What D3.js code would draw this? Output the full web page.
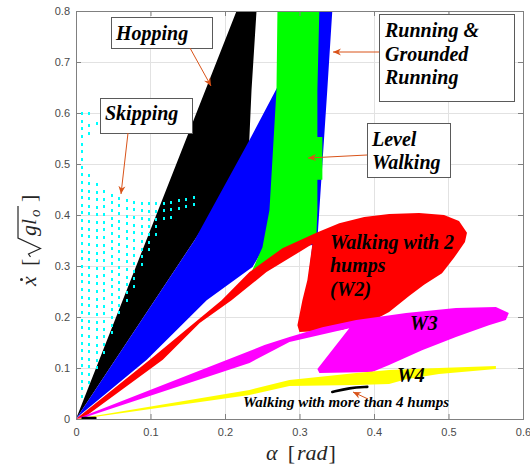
<!DOCTYPE html>
<html>
<head>
<meta charset="utf-8">
<script src="https://cdn.jsdelivr.net/npm/d3@7/dist/d3.min.js"></script>
<style>
    html, body { margin: 0; padding: 0; background: #ffffff; }
    svg { display: block; }
</style>
</head>
<body>
<div id="chart"></div>
<script>
// ---- data (alpha [rad], xdot [sqrt(g l0)]) ----
const xTicks = [0, 0.1, 0.2, 0.3, 0.4, 0.5, 0.6];
const yTicks = [0, 0.1, 0.2, 0.3, 0.4, 0.5, 0.6, 0.7, 0.8];

// hopping (black)
const hoppingRegion = [
    [0, 0], [0.2155, 0.8], [0.2423, 0.8], [0.2356, 0.645], [0.2316, 0.514], [0.1593, 0.351]
];

// running & grounded running (blue)
const runningRegion = [
    [0, 0], [0.1593, 0.351], [0.2329, 0.547], [0.2704, 0.651], [0.2731, 0.8], [0.344, 0.8],
    [0.3373, 0.645], [0.3293, 0.469], [0.324, 0.351], [0.3186, 0.308], [0.3092, 0.21],
    [0.3066, 0.21], [0.3146, 0.308], [0.3173, 0.341], [0.2503, 0.331], [0.2369, 0.298],
    [0.1754, 0.233], [0.095, 0.116], [0.0054, 0.008]
];

// level walking (green)
const levelWalkRegion = [
    [0.2704, 0.8], [0.2691, 0.645], [0.2597, 0.41], [0.2503, 0.337], [0.2356, 0.288],
    [0.253, 0.308], [0.2731, 0.3275], [0.2999, 0.345], [0.3226, 0.357], [0.324, 0.41],
    [0.324, 0.469], [0.3307, 0.469], [0.3307, 0.553], [0.324, 0.553], [0.324, 0.645],
    [0.3266, 0.8]
];

// walking with 2 humps (red)
const walk2Region = [
    [0, 0], [0.0991, 0.116], [0.1955, 0.233], [0.2329, 0.288], [0.2771, 0.335],
    [0.3226, 0.365], [0.3534, 0.384], [0.3869, 0.396], [0.4203, 0.402], [0.4605, 0.404],
    [0.494, 0.4], [0.5141, 0.388], [0.5248, 0.365], [0.5221, 0.347], [0.5074, 0.316],
    [0.4913, 0.286], [0.4672, 0.263], [0.4471, 0.241], [0.4203, 0.21], [0.4003, 0.194],
    [0.3561, 0.1745], [0.2999, 0.1706], [0.2972, 0.184], [0.3039, 0.233], [0.3106, 0.2725],
    [0.3173, 0.343], [0.2999, 0.3275], [0.2557, 0.288], [0.2088, 0.233], [0.166, 0.188],
    [0.1165, 0.116], [0.008, 0]
];

// walking with 3 humps (magenta)
const walk3Region = [
    [0, 0], [0.253, 0.145], [0.2865, 0.161], [0.3307, 0.18], [0.3762, 0.194], [0.4431, 0.208],
    [0.51, 0.2176], [0.5636, 0.2196], [0.581, 0.208], [0.577, 0.194], [0.5542, 0.184],
    [0.51, 0.161], [0.4645, 0.135], [0.4203, 0.106], [0.3976, 0.092], [0.3266, 0.09],
    [0.324, 0.098], [0.3668, 0.178], [0.2865, 0.151], [0.2329, 0.11], [0.0054, 0]
];

// walking with 4 humps (yellow)
const walk4Region = [
    [0, 0], [0.2329, 0.057], [0.2865, 0.0765], [0.3762, 0.09], [0.4203, 0.096], [0.4873, 0.1],
    [0.5636, 0.104], [0.5636, 0.098], [0.4873, 0.088], [0.4431, 0.078], [0.4203, 0.0686],
    [0.3762, 0.0667], [0.2865, 0.0647], [0.2329, 0.047], [0.0054, 0]
];

// walking with more than 4 humps (black strokes)
const multiHumpCurve = [[0.344, 0.053], [0.367, 0.061], [0.391, 0.063]];
const multiHumpOrigin = [[0.009, 0.002], [0.026, 0.002]];

// skipping (cyan dot grid): column alpha, top and bottom xdot
const skipColsX = [0.008, 0.018, 0.028, 0.038, 0.048, 0.058, 0.068, 0.078,
                   0.088, 0.098, 0.108, 0.118, 0.128, 0.138, 0.148, 0.158];
const skipColsTop = [0.6, 0.478, 0.461, 0.447, 0.44, 0.434, 0.429, 0.426,
                     0.424, 0.423, 0.423, 0.424, 0.426, 0.429, 0.432, 0.436];
const skipColsBottom = [0.045, 0.06, 0.095, 0.125, 0.16, 0.195, 0.23, 0.26,
                        0.295, 0.33, 0.36, 0.386, 0.394, 0.4, 0.406, 0.42];
const skipStep = 0.015;
const skipExtraDots = [[0.018, 0.6], [0.018, 0.577], [0.018, 0.561], [0.028, 0.581]];

// ---- layout ----
const W = 530, H = 466;
const plot = { left: 76, right: 523, top: 11, bottom: 419 };
const serif = "Liberation Serif, serif";
const sans = "Liberation Sans, sans-serif";

let svg = d3.select("#chart").append("svg")
    .attr("width", W)
    .attr("height", H);

let x = d3.scaleLinear().domain([0, 0.6]).range([plot.left, plot.right]);
let y = d3.scaleLinear().domain([0, 0.8]).range([plot.bottom, plot.top]);

// grid
let grid = svg.append("g").attr("shape-rendering", "crispEdges");
grid.selectAll(".gx")
    .data(xTicks.slice(1, -1))
    .enter().append("line")
    .attr("x1", d => x(d)).attr("x2", d => x(d))
    .attr("y1", plot.top).attr("y2", plot.bottom)
    .attr("stroke", "#e2e2e2");
grid.selectAll(".gy")
    .data(yTicks.slice(1, -1))
    .enter().append("line")
    .attr("x1", plot.left).attr("x2", plot.right)
    .attr("y1", d => y(d)).attr("y2", d => y(d))
    .attr("stroke", "#e2e2e2");

let area = d3.line()
    .x(d => x(d[0]))
    .y(d => y(d[1]))
    .curve(d3.curveLinearClosed);

let regions = svg.append("g");

// hopping first, skipping dots sit on top of it
regions.append("path").attr("d", area(hoppingRegion)).attr("fill", "#000000");

let skipDots = [];
skipColsX.forEach((cx, i) => {
    for (let v = skipColsTop[i]; v >= skipColsBottom[i] - 1e-9; v -= skipStep) {
        skipDots.push([cx, v]);
    }
});
skipDots = skipDots.concat(skipExtraDots);

regions.append("g")
    .attr("shape-rendering", "crispEdges")
    .selectAll(".skip")
    .data(skipDots)
    .enter().append("rect")
    .attr("class", "skip")
    .attr("x", d => Math.round(x(d[0])) - 1)
    .attr("y", d => Math.round(y(d[1])) - 1)
    .attr("width", 2)
    .attr("height", 3)
    .attr("fill", "#00ffff");

regions.append("path").attr("d", area(runningRegion)).attr("fill", "#0000ff");
regions.append("path").attr("d", area(levelWalkRegion)).attr("fill", "#00ff00");
regions.append("path").attr("d", area(walk2Region)).attr("fill", "#ff0000");
regions.append("path").attr("d", area(walk3Region)).attr("fill", "#ff00ff");
regions.append("path").attr("d", area(walk4Region)).attr("fill", "#ffff00");

let curve = d3.line().x(d => x(d[0])).y(d => y(d[1])).curve(d3.curveBasis);
[multiHumpCurve, multiHumpOrigin].forEach(c => {
    regions.append("path")
        .attr("d", curve(c))
        .attr("fill", "none")
        .attr("stroke", "#000000")
        .attr("stroke-width", 2.6)
        .attr("stroke-linecap", "round");
});

// ---- axes ----
const axisColor = "#808080";
let fmt = d => String(d);

let gx = svg.append("g")
    .attr("transform", `translate(0,${plot.bottom})`)
    .call(d3.axisBottom(x).tickValues(xTicks).tickSize(-5).tickPadding(9).tickFormat(fmt));
let gy = svg.append("g")
    .attr("transform", `translate(${plot.left},0)`)
    .call(d3.axisLeft(y).tickValues(yTicks).tickSize(-5).tickPadding(6).tickFormat(fmt));
let gt = svg.append("g")
    .attr("transform", `translate(0,${plot.top})`)
    .call(d3.axisTop(x).tickValues(xTicks).tickSize(-5).tickFormat(""));
let gr = svg.append("g")
    .attr("transform", `translate(${plot.right},0)`)
    .call(d3.axisRight(y).tickValues(yTicks).tickSize(-5).tickFormat(""));

[gx, gy, gt, gr].forEach(g => {
    g.attr("font-family", sans).attr("font-size", 11);
    g.select(".domain").remove();
    g.selectAll("line").attr("stroke", axisColor);
    g.selectAll("text").attr("fill", "#4a4a4a");
});

svg.append("rect")
    .attr("x", plot.left).attr("y", plot.top)
    .attr("width", plot.right - plot.left)
    .attr("height", plot.bottom - plot.top)
    .attr("shape-rendering", "crispEdges")
    .attr("fill", "none")
    .attr("stroke", axisColor);

// x label: alpha [rad]
let xl = svg.append("text")
    .attr("x", 301).attr("y", 460)
    .attr("text-anchor", "middle")
    .attr("font-family", serif)
    .attr("font-size", 22)
    .attr("fill", "#262626");
xl.append("tspan").attr("font-style", "italic").text("α");
xl.append("tspan").attr("dx", 10).text("[");
xl.append("tspan").attr("dx", 2).attr("font-style", "italic").text("rad");
xl.append("tspan").attr("dx", 1).text("]");

// y label: xdot [sqrt(g l_o)]
let yl = svg.append("g")
    .attr("transform", "translate(35.5,286) rotate(-90)")
    .attr("font-family", serif)
    .attr("fill", "#262626");
yl.append("text").attr("x", 0).attr("y", 0)
    .attr("font-size", 22).attr("font-style", "italic").text("x");
yl.append("circle").attr("cx", 6.5).attr("cy", -14).attr("r", 1.5);
yl.append("text").attr("x", 20).attr("y", 0).attr("font-size", 22).text("[");
yl.append("path")
    .attr("d", "M29,-5 L32,-7 L37.5,5 L48,-17.5 L80,-17.5")
    .attr("fill", "none")
    .attr("stroke", "#262626")
    .attr("stroke-width", 1.2);
yl.append("text").attr("x", 50).attr("y", 0)
    .attr("font-size", 22).attr("font-style", "italic").text("gl");
yl.append("text").attr("x", 69).attr("y", 4)
    .attr("font-size", 15).attr("font-style", "italic").text("o");
yl.append("text").attr("x", 84).attr("y", 0).attr("font-size", 22).text("]");

// ---- annotations ----
const arrowColor = "#d95319";
svg.append("defs").append("marker")
    .attr("id", "head")
    .attr("viewBox", "-8 -4 10 8")
    .attr("refX", 0).attr("refY", 0)
    .attr("markerWidth", 10).attr("markerHeight", 8)
    .attr("markerUnits", "userSpaceOnUse")
    .attr("orient", "auto")
    .append("path")
    .attr("d", "M0,0 L-8,-3.5 L-5.5,0 L-8,3.5 Z")
    .attr("fill", arrowColor);

const labels = [
    { lines: ["Hopping"], tx: 116, ty: [40], box: [111, 17, 101, 31], arrow: [190, 48, 211, 86] },
    { lines: ["Skipping"], tx: 105, ty: [120], box: [100, 98, 92, 35], arrow: [128, 133, 121, 194] },
    { lines: ["Running &", "Grounded", "Running"], tx: 385, ty: [36.5, 60.5, 84],
      box: [379, 14, 135, 87], arrow: [379, 52, 333, 52] },
    { lines: ["Level", "Walking"], tx: 372, ty: [146, 168.5], box: [367, 123, 83, 54],
      arrow: [367, 155, 308, 158] },
    { lines: ["Walking with 2", "humps", "(W2)"], tx: 330, ty: [249, 272, 296] },
    { lines: ["W3"], tx: 410, ty: [330] },
    { lines: ["W4"], tx: 397, ty: [382] },
    { lines: ["Walking with more than 4 humps"], tx: 243, ty: [407], size: 15,
      arrow: [368, 399, 353, 392] }
];

let notes = svg.append("g");
labels.forEach(l => {
    if (l.box) {
        notes.append("rect")
            .attr("x", l.box[0]).attr("y", l.box[1])
            .attr("width", l.box[2]).attr("height", l.box[3])
            .attr("shape-rendering", "crispEdges")
            .attr("fill", "#ffffff")
            .attr("stroke", "#5a5a5a");
    }
    l.lines.forEach((t, i) => {
        notes.append("text")
            .attr("x", l.tx).attr("y", l.ty[i])
            .attr("font-family", serif)
            .attr("font-weight", "bold")
            .attr("font-style", "italic")
            .attr("font-size", l.size || 20)
            .attr("fill", "#000000")
            .text(t);
    });
    if (l.arrow) {
        notes.append("line")
            .attr("x1", l.arrow[0]).attr("y1", l.arrow[1])
            .attr("x2", l.arrow[2]).attr("y2", l.arrow[3])
            .attr("stroke", arrowColor)
            .attr("stroke-width", 1)
            .attr("marker-end", "url(#head)");
    }
});
</script>
</body>
</html>
